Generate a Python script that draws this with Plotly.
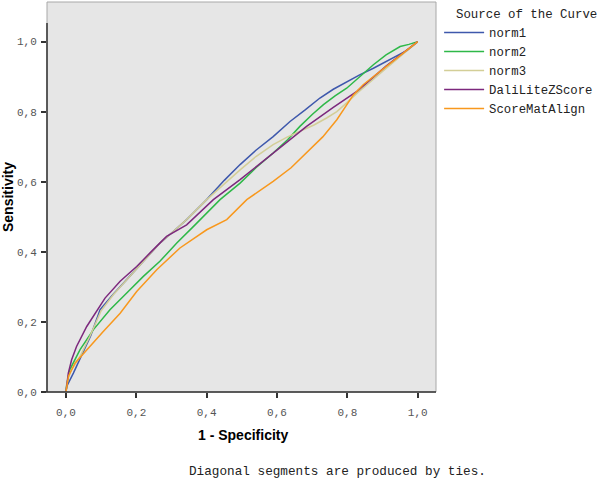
import plotly.graph_objects as go

# ---- data ----
names = ["norm1", "norm2", "norm3", "DaliLiteZScore", "ScoreMatAlign"]
colors = ["#3E58AC", "#2EB848", "#D3CE97", "#7C287D", "#F8981D"]

norm1_x = [0, 0.002, 0.021, 0.045, 0.070, 0.097, 0.135, 0.172, 0.220, 0.267, 0.305, 0.343, 0.400, 0.450, 0.495, 0.540, 0.589, 0.637, 0.680, 0.722, 0.760, 0.798, 0.835, 0.874, 0.931, 0.970, 1.0]
norm1_y = [0, 0.016, 0.054, 0.105, 0.160, 0.235, 0.280, 0.320, 0.372, 0.425, 0.458, 0.492, 0.549, 0.604, 0.649, 0.690, 0.729, 0.772, 0.805, 0.839, 0.864, 0.886, 0.905, 0.924, 0.953, 0.975, 1.0]

norm2_x = [0, 0.002, 0.011, 0.040, 0.078, 0.125, 0.172, 0.220, 0.267, 0.315, 0.362, 0.438, 0.495, 0.540, 0.589, 0.630, 0.665, 0.700, 0.732, 0.765, 0.798, 0.835, 0.874, 0.910, 0.950, 0.975, 1.0]
norm2_y = [0, 0.021, 0.064, 0.121, 0.178, 0.235, 0.282, 0.330, 0.373, 0.425, 0.472, 0.549, 0.596, 0.640, 0.682, 0.720, 0.758, 0.792, 0.820, 0.845, 0.867, 0.900, 0.934, 0.962, 0.986, 0.992, 1.0]

norm3_x = [0, 0.003, 0.015, 0.040, 0.068, 0.100, 0.135, 0.172, 0.220, 0.267, 0.305, 0.343, 0.400, 0.450, 0.495, 0.540, 0.589, 0.630, 0.665, 0.705, 0.741, 0.770, 0.798, 0.830, 0.900, 1.0]
norm3_y = [0, 0.030, 0.062, 0.102, 0.159, 0.232, 0.278, 0.320, 0.372, 0.425, 0.458, 0.492, 0.549, 0.595, 0.634, 0.672, 0.706, 0.728, 0.744, 0.762, 0.782, 0.800, 0.825, 0.855, 0.915, 1.0]

dali_x = [0, 0.0066, 0.016, 0.030, 0.059, 0.078, 0.111, 0.154, 0.201, 0.239, 0.286, 0.343, 0.419, 0.495, 0.590, 0.684, 0.760, 0.827, 0.910, 1.0]
dali_y = [0, 0.054, 0.092, 0.130, 0.187, 0.216, 0.268, 0.316, 0.358, 0.397, 0.444, 0.477, 0.549, 0.606, 0.682, 0.758, 0.812, 0.858, 0.930, 1.0]

smat_x = [0, 0.007, 0.026, 0.059, 0.106, 0.154, 0.201, 0.258, 0.324, 0.400, 0.457, 0.514, 0.589, 0.640, 0.684, 0.730, 0.770, 0.800, 0.817, 0.845, 0.880, 0.921, 0.960, 1.0]
smat_y = [0, 0.045, 0.083, 0.121, 0.173, 0.225, 0.287, 0.349, 0.411, 0.463, 0.492, 0.549, 0.601, 0.640, 0.682, 0.728, 0.777, 0.820, 0.848, 0.877, 0.905, 0.939, 0.970, 1.0]

tick_vals = [0, 0.2, 0.4, 0.6, 0.8, 1.0]
tick_text = ["0,0", "0,2", "0,4", "0,6", "0,8", "1,0"]

series = [(norm1_x, norm1_y), (norm2_x, norm2_y), (norm3_x, norm3_y), (dali_x, dali_y), (smat_x, smat_y)]

MONO = "Liberation Mono, Courier New, monospace"
SANS = "Liberation Sans, Arial, sans-serif"

fig = go.Figure()
for (xs, ys), n, c in zip(series, names, colors):
    fig.add_trace(go.Scatter(x=xs, y=ys, mode="lines", name=n,
                             line=dict(color=c, width=1.5)))

axis_common = dict(
    tickvals=tick_vals, ticktext=tick_text, ticks="outside", ticklen=5,
    tickwidth=1.5, tickcolor="#333333", showgrid=False, zeroline=False,
    showline=False, tickfont=dict(family=MONO, size=11, color="#555555"),
)

fig.update_layout(
    width=600, height=481,
    margin=dict(l=47, r=164, t=2, b=89, autoexpand=False),
    paper_bgcolor="white", plot_bgcolor="#E6E6E6",
    xaxis=dict(range=[-0.054, 1.052], ticklabelstandoff=5, automargin=False, **axis_common),
    yaxis=dict(range=[0, 1.113], ticklabelstandoff=2, automargin=False, **axis_common),
    showlegend=True,
    legend=dict(
        x=1.008, xanchor="left", y=1.0, yanchor="top",
        title=dict(text="\u00a0\u00a0Source of the Curve", font=dict(family=MONO, size=12.4, color="#222222")),
        font=dict(family=MONO, size=12.3, color="#222222"),
        bgcolor="rgba(0,0,0,0)", itemwidth=40, tracegroupgap=0,
    ),
    shapes=[
        dict(type="rect", xref="paper", yref="paper", x0=0, x1=1, y0=0, y1=1,
             line=dict(color="#A8A8A8", width=1)),
        dict(type="line", xref="paper", yref="paper", x0=0, x1=0, y0=0, y1=1.053 / 1.113,
             line=dict(color="#333333", width=1.5)),
        dict(type="line", xref="paper", yref="paper", x0=-5 / 389, x1=1, y0=0, y1=0,
             line=dict(color="#333333", width=1.5)),
    ],
    annotations=[
        dict(text="<b>1 - Specificity</b>", xref="paper", yref="paper",
             x=(243 - 47) / 389, y=-(435 - 392) / 390, xanchor="center", yanchor="middle",
             showarrow=False, font=dict(family=SANS, size=14, color="black")),
        dict(text="<b>Sensitivity</b>", xref="paper", yref="paper",
             x=-(47 - 8) / 389, y=(392 - 197) / 390, xanchor="center", yanchor="middle",
             textangle=-90, showarrow=False, font=dict(family=SANS, size=14, color="black")),
        dict(text="Diagonal segments are produced by ties.", xref="paper", yref="paper",
             x=(186.7 - 47) / 389, y=-(471.7 - 392) / 390, xanchor="left", yanchor="middle",
             showarrow=False, font=dict(family=MONO, size=12.7, color="#222222")),
    ],
)

fig.write_html("out.html", config={"displayModeBar": False},
               post_script="document.body.style.margin='0';")
